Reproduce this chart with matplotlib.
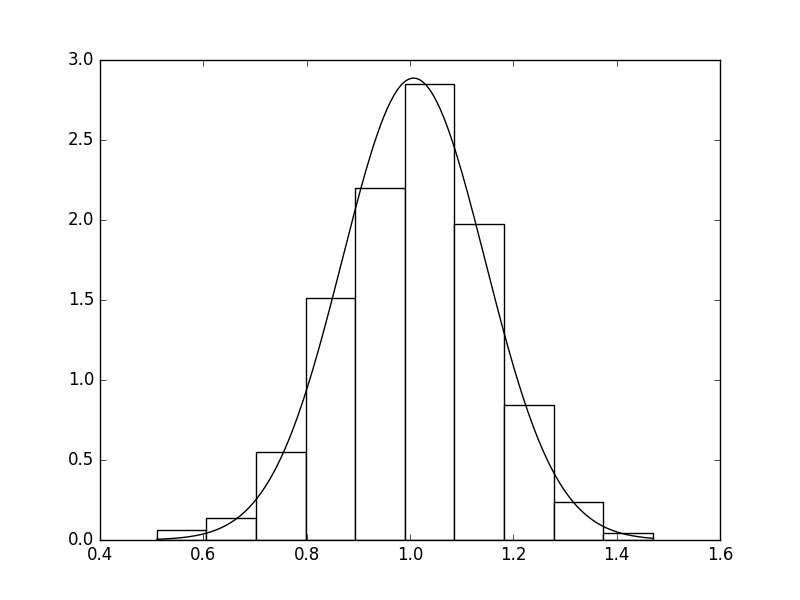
import numpy as np
import matplotlib
matplotlib.use("Agg")
import matplotlib.pyplot as plt

# ── Datos ───────────────────────────────────────────────────
bordes = [0.510, 0.606, 0.702, 0.798, 0.894, 0.990,
          1.086, 1.182, 1.278, 1.374, 1.470]
alturas = [0.062, 0.137, 0.549, 1.51, 2.198, 2.849,
           1.978, 0.842, 0.237, 0.044]

# parámetros de la normal ajustada
mu = 1.007
sigma = 0.1382

plt.style.use("classic")
fig, ax = plt.subplots(figsize=(8, 6), dpi=100)

anchos = np.diff(bordes)
ax.bar(bordes[:-1], alturas, width=anchos, align="edge",
       facecolor="white", edgecolor="black", linewidth=1)

x = np.linspace(bordes[0], bordes[-1], 300)
y = np.exp(-(x - mu) ** 2 / (2 * sigma ** 2)) / (sigma * np.sqrt(2 * np.pi))
ax.plot(x, y, color="black", linewidth=1)

ax.set_xlim(0.4, 1.6)
ax.set_ylim(0, 3.0)

fig.savefig("out.png", dpi=100)
